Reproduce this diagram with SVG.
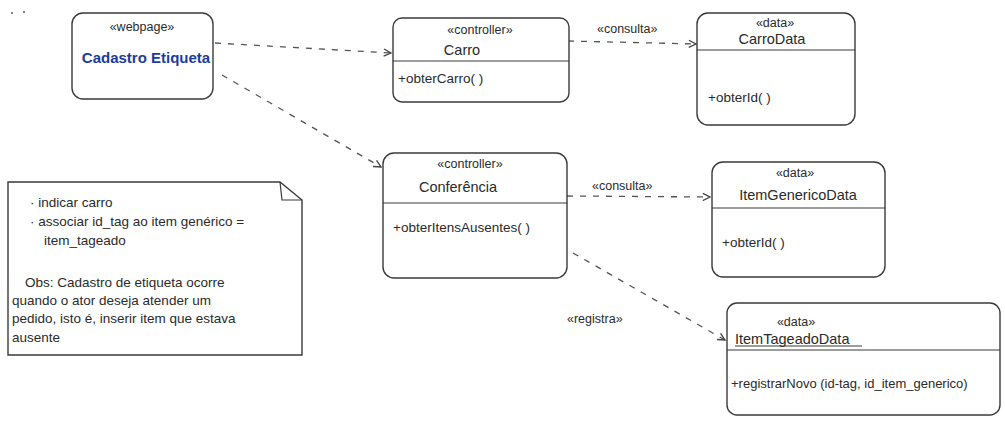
<svg xmlns="http://www.w3.org/2000/svg" width="1005" height="428" viewBox="0 0 1005 428">
<defs>
<style>
.box{fill:#fff;stroke:#3a3a3a;stroke-width:1.4}
.div{stroke:#3a3a3a;stroke-width:1.2;fill:none}
.dep{stroke:#555;stroke-width:1.3;fill:none;stroke-dasharray:6 7}
text{font-family:"Liberation Sans","DejaVu Sans",sans-serif;fill:#2a2a2a}
.st{font-size:12.5px;text-anchor:middle}
.nm{font-size:14.5px;text-anchor:middle}
.op{font-size:13.5px}
.lb{font-size:12.5px}
.nt{font-size:13.5px}
</style>
<marker id="arr" viewBox="0 0 10 10" refX="9" refY="5" markerWidth="9" markerHeight="9" orient="auto" markerUnits="userSpaceOnUse">
<path d="M1 1 L9 5 L1 9" fill="none" stroke="#444" stroke-width="1.5"/>
</marker>
</defs>
<rect width="1005" height="428" fill="#fff"/>
<circle cx="12" cy="13" r="1" fill="#555"/>
<circle cx="24" cy="12" r="1" fill="#555"/>

<g id="connectors">
<line class="dep" x1="215" y1="43" x2="391" y2="53" marker-end="url(#arr)"/>
<line class="dep" x1="222" y1="75" x2="381" y2="167" marker-end="url(#arr)"/>
<line class="dep" x1="568" y1="41" x2="696" y2="44" marker-end="url(#arr)"/>
<text class="lb" x="597" y="33">«consulta»</text>
<line class="dep" x1="567" y1="196" x2="710" y2="197" marker-end="url(#arr)"/>
<text class="lb" x="592" y="190">«consulta»</text>
<line class="dep" x1="573" y1="253" x2="725" y2="340" marker-end="url(#arr)"/>
<text class="lb" x="567" y="323">«registra»</text>
</g>

<g id="webpage">
<rect class="box" x="72" y="13" width="141" height="86" rx="11"/>
<text class="st" x="142" y="31">«webpage»</text>
<text class="nm" x="146" y="63" style="fill:#1b3c9e;font-size:15px;font-weight:bold">Cadastro Etiqueta</text>
</g>

<g id="carro">
<rect class="box" x="393" y="18" width="176" height="84" rx="9"/>
<line class="div" x1="393" y1="61" x2="569" y2="61"/>
<text class="st" x="480" y="34">«controller»</text>
<text class="nm" x="462" y="55">Carro</text>
<text class="op" x="398" y="83">+obterCarro( )</text>
</g>

<g id="carrodata">
<rect class="box" x="697" y="13" width="158" height="112" rx="11"/>
<line class="div" x1="697" y1="50" x2="855" y2="50"/>
<text class="st" x="775" y="27">«data»</text>
<text class="nm" x="772" y="44">CarroData</text>
<text class="op" x="708" y="102">+obterId( )</text>
</g>

<g id="conferencia">
<rect class="box" x="383" y="153" width="184" height="125" rx="11"/>
<line class="div" x1="383" y1="203" x2="567" y2="203"/>
<text class="st" x="470" y="168">«controller»</text>
<text class="nm" x="458" y="192">Conferência</text>
<text class="op" x="393" y="232">+obterItensAusentes( )</text>
</g>

<g id="itemgenericodata">
<rect class="box" x="712" y="162" width="173" height="115" rx="11"/>
<line class="div" x1="712" y1="208" x2="885" y2="208"/>
<text class="st" x="795" y="177">«data»</text>
<text class="nm" x="798" y="200">ItemGenericoData</text>
<text class="op" x="722" y="247">+obterId( )</text>
</g>

<g id="itemtageadodata">
<rect class="box" x="727" y="303" width="273" height="112" rx="10"/>
<line class="div" x1="727" y1="350" x2="1000" y2="350"/>
<text class="st" x="796" y="326">«data»</text>
<text class="nm" x="735" y="344" style="text-anchor:start">ItemTageadoData</text>
<line x1="735" y1="346" x2="862" y2="346" stroke="#3a3a3a" stroke-width="1"/>
<text class="op" x="731" y="388" style="font-size:13px">+registrarNovo (id-tag, id_item_generico)</text>
</g>

<g id="note">
<path class="box" d="M8 182 L280 182 L302 200 L302 355 L8 355 Z"/>
<path class="div" d="M280 182 L282 200 L302 200"/>
<text class="nt" x="30" y="207">· indicar carro</text>
<text class="nt" x="30" y="226">· associar id_tag ao item genérico =</text>
<text class="nt" x="44" y="245">item_tageado</text>
<text class="nt" x="25" y="287">Obs: Cadastro de etiqueta ocorre</text>
<text class="nt" x="12" y="305">quando o ator deseja atender um</text>
<text class="nt" x="12" y="323">pedido, isto é, inserir item que estava</text>
<text class="nt" x="12" y="342">ausente</text>
</g>
</svg>
